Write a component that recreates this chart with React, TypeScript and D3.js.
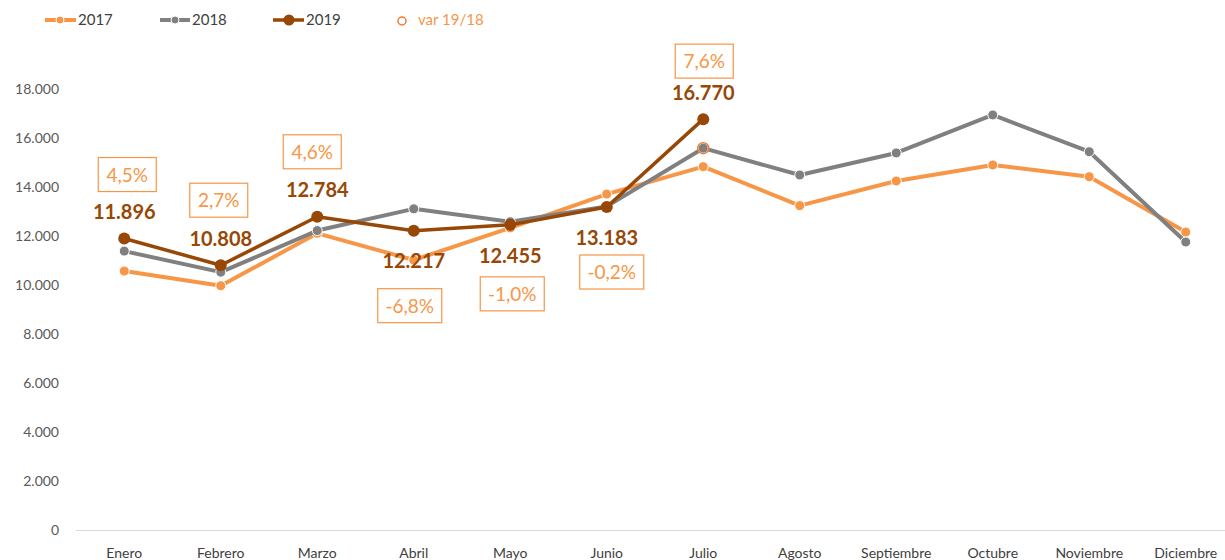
import React from "react";
import * as d3 from "d3";

const months = ["Enero","Febrero","Marzo","Abril","Mayo","Junio","Julio","Agosto","Septiembre","Octubre","Noviembre","Diciembre"];
const v2017 = [10570, 9970, 12110, 11020, 12330, 13710, 14830, 13240, 14245, 14900, 14420, 12160];
const v2018 = [11384, 10524, 12222, 13108, 12581, 13210, 15585, 14490, 15390, 16940, 15440, 11755];
const v2019 = [11896, 10808, 12784, 12217, 12455, 13183, 16770];
const var1918 = ["4,5%", "2,7%", "4,6%", "-6,8%", "-1,0%", "-0,2%", "7,6%"];
const yTicks = [0, 2000, 4000, 6000, 8000, 10000, 12000, 14000, 16000, 18000];

// layout offsets for labels (px relative to the 2019 point)
const valueDy = [-27, -26, -27, 30, 31, 31, -26];
const varPos = [[3, -64], [-2, -65], [-5, -65], [-4, 75], [2, 69], [5, 65], [1, -58]];

const W = 1225, H = 560;
const C17 = "#F79646", C18 = "#808080", C19 = "#974706", CV = "#F79646";

const x = d3.scaleBand<string>().domain(months).range([76, 1234]);
const y = d3.scaleLinear().domain([0, 18000]).range([530, 89]);
const cx = (i: number) => (x(months[i]) as number) + x.bandwidth() / 2;
const fmt = (v: number) => d3.format(",")(v).replace(/,/g, ".");

const line = d3.line<number>().x((_, i) => cx(i)).y((d) => y(d));
const FONT = "Lato, 'Open Sans', sans-serif";

export default function App() {
  return (
    <svg width={W} height={H} style={{ position: "absolute", left: 0, top: 0, background: "#fff" }} fontFamily={FONT}>
      <rect width={W} height={H} fill="#fff" />
      {/* legend */}
      <g fontSize={15} fill="#404040">
        <line x1={45} x2={76} y1={20} y2={20} stroke={C17} strokeWidth={4} />
        <circle cx={60} cy={20} r={4} fill={C17} stroke="#fff" strokeWidth={1} />
        <text x={78} y={25}>2017</text>
        <line x1={160} x2={190} y1={20} y2={20} stroke={C18} strokeWidth={4} />
        <circle cx={175} cy={20} r={4} fill={C18} stroke="#fff" strokeWidth={1} />
        <text x={192} y={25}>2018</text>
        <line x1={273} x2={304} y1={20} y2={20} stroke={C19} strokeWidth={3.5} />
        <circle cx={289} cy={20} r={5.5} fill={C19} />
        <text x={306} y={25}>2019</text>
        <circle cx={402} cy={21} r={4} fill="none" stroke="#ED7D31" strokeWidth={1.5} />
        <text x={418} y={25} fill={CV}>var 19/18</text>
      </g>
      {/* y axis labels */}
      <g fontSize={14} fill="#595959" textAnchor="end">
        {yTicks.map((t) => (
          <text key={t} x={59} y={y(t) + 5}>{fmt(t)}</text>
        ))}
      </g>
      <line x1={76} x2={1234} y1={530.5} y2={530.5} stroke="#D9D9D9" strokeWidth={1} />
      {/* x labels */}
      <g fontSize={14} fill="#404040" textAnchor="middle">
        {months.map((m, i) => (
          <text key={m} x={cx(i)} y={558}>{m}</text>
        ))}
      </g>
      {/* 2017 */}
      <path d={line(v2017) || ""} fill="none" stroke={C17} strokeWidth={4} strokeLinejoin="round" />
      {v2017.map((v, i) => (
        <circle key={i} cx={cx(i)} cy={y(v)} r={5} fill={C17} stroke="#fff" strokeWidth={1} />
      ))}
      {/* 2018 */}
      <path d={line(v2018) || ""} fill="none" stroke={C18} strokeWidth={4} strokeLinejoin="round" />
      {v2018.map((v, i) => (
        <circle key={i} cx={cx(i)} cy={y(v)} r={5} fill={C18} stroke="#fff" strokeWidth={1} />
      ))}
      {/* var marker (last available month) */}
      <circle cx={cx(v2019.length - 1)} cy={y(v2018[v2019.length - 1])} r={5.5} fill="none" stroke="#ED7D31" strokeWidth={1.5} />
      {/* 2019 */}
      <path d={line(v2019) || ""} fill="none" stroke={C19} strokeWidth={3.5} strokeLinejoin="round" />
      {v2019.map((v, i) => (
        <circle key={i} cx={cx(i)} cy={y(v)} r={6} fill={C19} />
      ))}
      {/* 2019 value labels */}
      <g fontSize={20} fontWeight={700} fill={C19} textAnchor="middle">
        {v2019.map((v, i) => (
          <text key={i} x={cx(i)} y={y(v) + valueDy[i] + 7}>{fmt(v)}</text>
        ))}
      </g>
      {/* var labels */}
      <g fontSize={19} fill={CV}>
        {var1918.map((s, i) => {
          const px = cx(i) + varPos[i][0];
          const py = y(v2019[i]) + varPos[i][1];
          const w = s.startsWith("-") ? 64 : 58;
          return (
            <g key={i}>
              <rect x={px - w / 2} y={py - 17} width={w} height={34} fill="none" stroke={CV} strokeWidth={1.2} />
              <text x={px} y={py + 7} textAnchor="middle">{s}</text>
            </g>
          );
        })}
      </g>
    </svg>
  );
}
